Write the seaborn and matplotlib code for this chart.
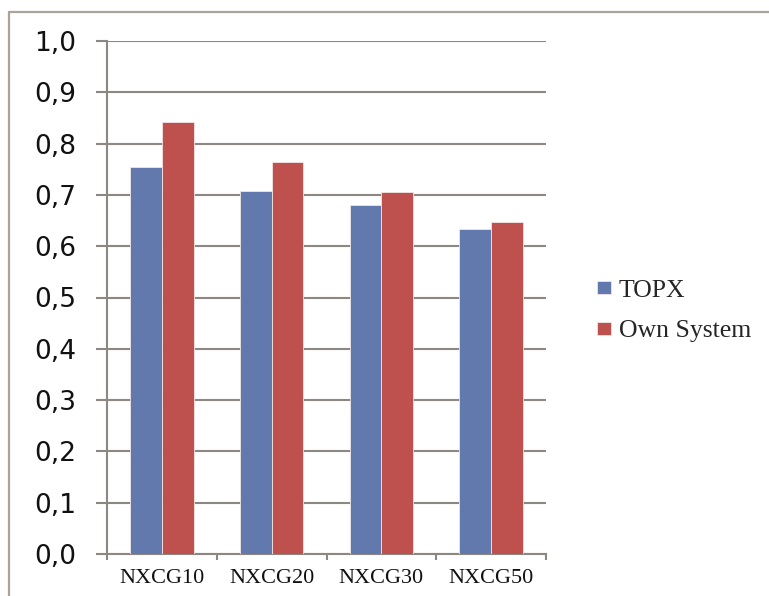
import matplotlib
matplotlib.use("Agg")
import matplotlib.pyplot as plt
from matplotlib.lines import Line2D
import seaborn as sns
import pandas as pd
import numpy as np

categories = ["NXCG10", "NXCG20", "NXCG30", "NXCG50"]
series_names = ["TOPX", "Own System"]
topx = [0.754, 0.708, 0.681, 0.633]
own = [0.842, 0.764, 0.706, 0.647]
yticks = [0.0, 0.1, 0.2, 0.3, 0.4, 0.5, 0.6, 0.7, 0.8, 0.9, 1.0]
ytick_labels = ["0,0", "0,1", "0,2", "0,3", "0,4", "0,5", "0,6", "0,7", "0,8", "0,9", "1,0"]

df = pd.DataFrame({
    "category": categories * 2,
    "series": [series_names[0]] * 4 + [series_names[1]] * 4,
    "value": topx + own,
})

sns.set_theme(style="white")
plt.rcParams["font.family"] = ["DejaVu Sans"]

W, H = 769, 596
fig = plt.figure(figsize=(W / 100, H / 100), dpi=100)
fig.patch.set_facecolor("white")
ax_left, ax_right, ax_top, ax_bottom = 107, 546, 41, 554
ax = fig.add_axes([ax_left / W, 1 - ax_bottom / H, (ax_right - ax_left) / W, (ax_bottom - ax_top) / H])

grid_c = "#8d8782"
sns.barplot(data=df, x="category", y="value", hue="series", ax=ax,
            palette=["#6279ae", "#be514e"], width=0.58, saturation=1,
            edgecolor="#f2e6e4", linewidth=0.6, zorder=3)

ax.set_ylim(0, 1.0)
ax.set_xlim(-0.5, 3.5)
ax.set_yticks(yticks)
ax.set_yticklabels(ytick_labels, fontsize=19, color="#111111")
ax.yaxis.grid(True, color=grid_c, linewidth=1.5, zorder=0)
ax.set_axisbelow(True)
ax.set_xlabel("")
ax.set_ylabel("")
for s in ["top", "right"]:
    ax.spines[s].set_visible(False)
for s in ["left", "bottom"]:
    ax.spines[s].set_color(grid_c)
    ax.spines[s].set_linewidth(1.5)
ax.tick_params(axis="y", which="major", length=8, width=1.5, color=grid_c, pad=14, direction="out", left=True)
ax.set_xticks(range(4))
ax.set_xticklabels(categories, fontsize=16, family="Liberation Serif", color="#111111")
ax.tick_params(axis="x", which="major", length=0, pad=11)
ax.set_xticks([-0.5, 0.5, 1.5, 2.5, 3.5], minor=True)
ax.tick_params(axis="x", which="minor", length=4, width=1.5, color=grid_c, direction="out", bottom=True)

leg = ax.legend(loc="center left", bbox_to_anchor=(574 / W, 1 - 311 / H), bbox_transform=fig.transFigure,
                frameon=False, handlelength=0.55, handleheight=0.4, handletextpad=0.3,
                labelspacing=0.72, prop={"family": "Liberation Serif", "size": 18.5})

# outer frame lines (left and top)
fc = "#aaa39b"
fig.add_artist(Line2D([9 / W, 9 / W], [0, 1 - 12 / H], transform=fig.transFigure, color=fc, linewidth=1.6))
fig.add_artist(Line2D([9 / W, 1], [1 - 12 / H, 1 - 12 / H], transform=fig.transFigure, color=fc, linewidth=1.6))

fig.savefig("out.png", dpi=100, facecolor="white")
